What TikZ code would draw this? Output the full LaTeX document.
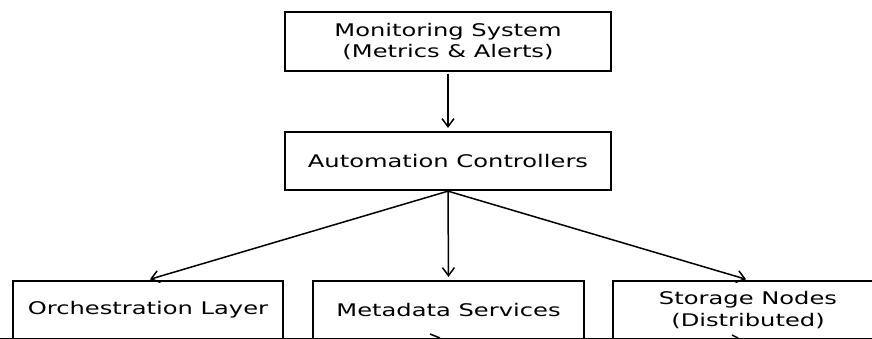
\documentclass[tikz,border=0pt]{standalone}
\usepackage{fontspec}
\setmainfont{DejaVu Sans}[FakeStretch=1.39]
\usetikzlibrary{arrows.meta}
\begin{document}
\begin{tikzpicture}[x=1pt,y=-1pt,
  box/.style={draw,line width=1.8pt,minimum height=58.5pt,inner sep=0pt,align=center,
    font=\fontsize{17.4}{21.7}\selectfont},
  arr/.style={line width=1.5pt,-{Straight Barb[length=8pt,width=12pt]}}]
\clip (0,0) rectangle (872,339);
\fill[white] (0,0) rectangle (872,339);
\node[box,minimum width=326.5pt] (mon) at (448,41.5) {Monitoring System\\(Metrics \& Alerts)};
\node[box,minimum width=326.5pt] (auto) at (448,161) {Automation Controllers};
\node[box,minimum width=270.5pt] (orch) at (148,310) {Orchestration Layer};
\node[box,minimum width=271.5pt] (meta) at (448.5,310) {Metadata Services};
\node[box,minimum width=270.5pt] (stor) at (748,310) {Storage Nodes\\(Distributed)};
\draw[arr,shorten <=2pt,shorten >=3pt] (mon.south) -- (auto.north);
\draw[arr,shorten >=2pt] (auto.south) -- (orch.north);
\draw[arr,shorten >=3pt] (auto.south) -- (meta.north);
\draw[arr,shorten >=2pt] (auto.south) -- (stor.north);
\draw[line width=1.2pt] (0,338.4) -- (872,338.4);
\draw[line width=1.5pt] (430,334) -- (440,338);
\draw[line width=1.5pt] (732,335) -- (738,338);
\end{tikzpicture}
\end{document}
